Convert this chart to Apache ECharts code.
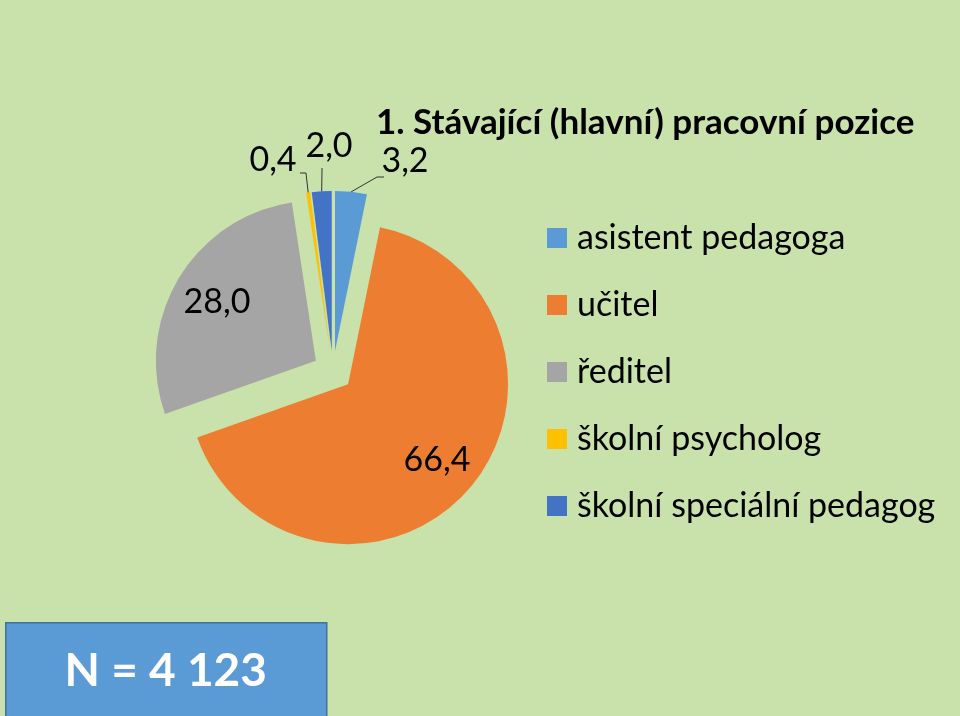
<!DOCTYPE html>
<html><head><meta charset="utf-8">
<script src="https://cdn.jsdelivr.net/npm/echarts@6/dist/echarts.min.js"></script>
<style>html,body{margin:0;padding:0;background:#c9e1aa}#c{width:960px;height:716px}</style>
</head><body><div id="c"></div>
<script>
const categories = ['asistent pedagoga', 'učitel', 'ředitel', 'školní psycholog', 'školní speciální pedagog'];
const values = [3.2, 66.4, 28.0, 0.4, 2.0];
const colors = ['#5B9BD5', '#ED7D31', '#A5A5A5', '#FFC000', '#4472C4'];
const titleText = '1. Stávající (hlavní) pracovní pozice';
const nText = 'N = 4 123';

const FONT = 'Lato';
const fmt = v => v.toFixed(1).replace('.', ',');
const CX = 333, CY = 371, R = 160, EXPLODE = 20;

// label placement (centre of text) and leader-line bends
const labelPos = {
  0: { x: 405, y: 161, line: [[377, 177], [384, 177]] },
  1: { x: 437, y: 460 },
  2: { x: 217, y: 302 },
  3: { x: 273, y: 160, line: [[306, 173], [300, 173]] },
  4: { x: 329, y: 146, line: [[322, 169], [322, 168]] }
};

const total = values.reduce((a, b) => a + b, 0);
let acc = 0;
const series = values.map((v, i) => {
  const mid = (acc + v / 2) / total * 2 * Math.PI;
  acc += v;
  const inside = (i === 1 || i === 2);
  return {
    type: 'pie',
    center: [CX + EXPLODE * Math.sin(mid), CY - EXPLODE * Math.cos(mid)],
    radius: R,
    startAngle: 90,
    clockwise: true,
    avoidLabelOverlap: false,
    emphasis: { disabled: true },
    data: categories.map((n, j) => j === i ? {
      name: n, value: values[j],
      itemStyle: { color: colors[j] },
      label: { show: true, position: inside ? 'inside' : 'outside' },
      labelLine: { show: !inside }
    } : {
      name: n, value: values[j],
      itemStyle: { color: 'rgba(0,0,0,0)' },
      label: { show: false }, labelLine: { show: false }
    }),
    label: {
      formatter: p => fmt(p.value),
      fontFamily: FONT, fontSize: 34, color: '#000'
    },
    labelLine: { lineStyle: { color: '#333', width: 1 }, length: 10, length2: 5 },
    labelLayout: function (params) {
      const p = labelPos[params.dataIndex];
      const out = { x: p.x, y: p.y, align: 'center', verticalAlign: 'middle' };
      if (p.line && params.labelLinePoints) {
        out.labelLinePoints = [params.labelLinePoints[0], p.line[0], p.line[1]];
      }
      return out;
    }
  };
});

const chart = echarts.init(document.getElementById('c'));
chart.setOption({
  backgroundColor: '#c9e1aa',
  animation: false,
  title: {
    text: titleText, left: 371, top: 100,
    textStyle: { fontFamily: FONT, fontSize: 35, fontWeight: 'bold', color: '#000' }
  },
  legend: {
    orient: 'vertical', left: 542, top: 216,
    itemWidth: 20, itemHeight: 20, itemGap: 33,
    icon: 'rect',
    data: categories.map((n, i) => ({ name: n, itemStyle: { color: colors[i] } })),
    textStyle: { fontFamily: FONT, fontSize: 34, color: '#000', lineHeight: 34, padding: [0, 0, 0, 5] }
  },
  graphic: [{
    type: 'group', left: 5, top: 622,
    children: [
      { type: 'rect', shape: { x: 0, y: 0, width: 321, height: 100 },
        style: { fill: '#5B9BD5', stroke: '#41719C', lineWidth: 1.5 } },
      { type: 'text', x: 160, y: 48,
        style: { text: nText, fill: '#fff', font: 'bold 46px ' + FONT, align: 'center', verticalAlign: 'middle' } }
    ]
  }],
  series: series
});
</script></body></html>
